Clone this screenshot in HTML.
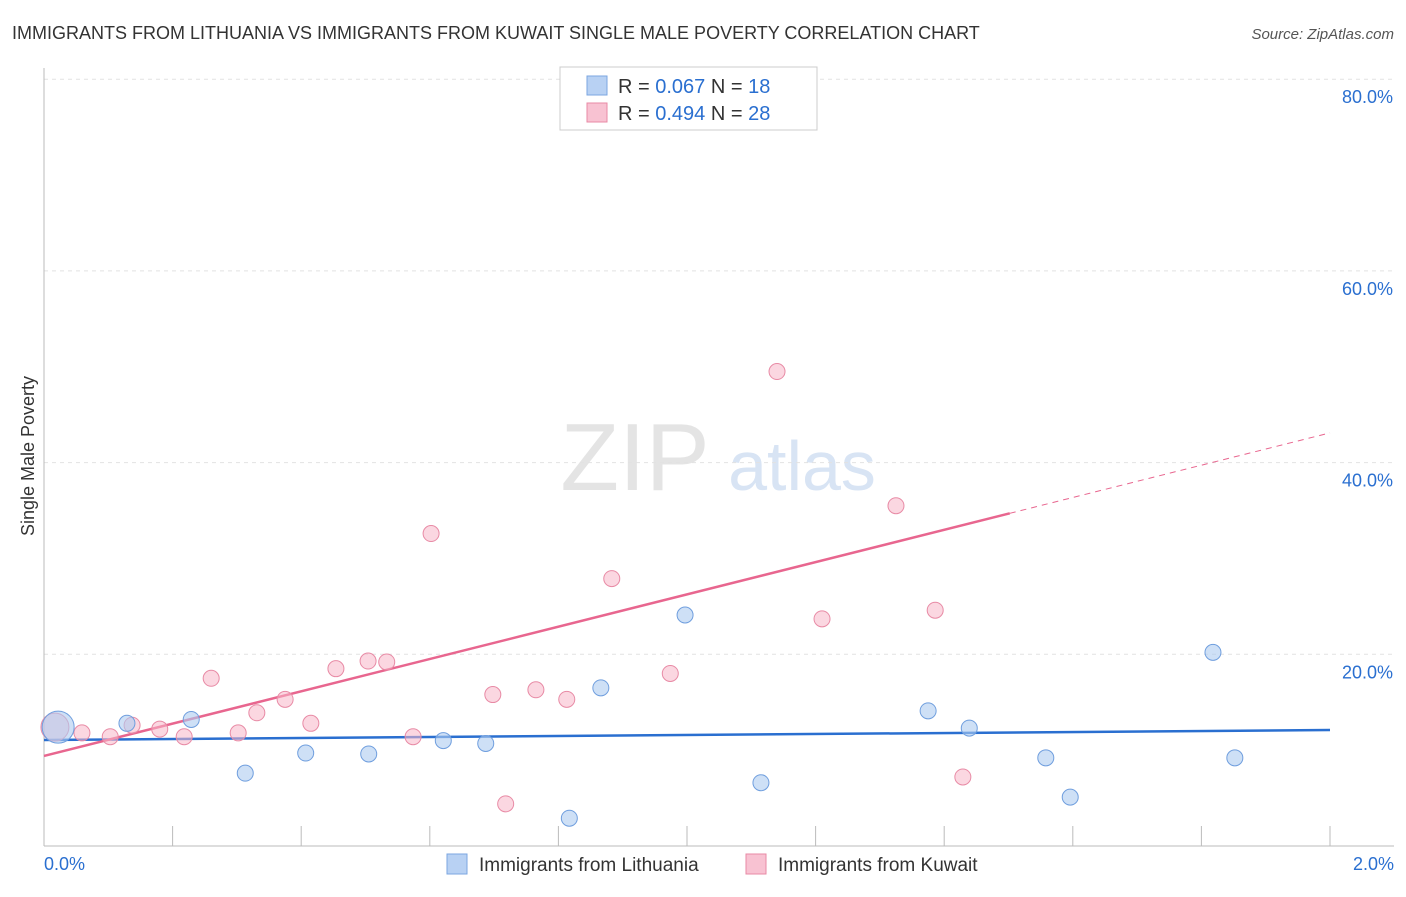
<!DOCTYPE html>
<html><head><meta charset="utf-8"><style>
body{margin:0;background:#fff;font-family:"Liberation Sans",sans-serif;}
svg text{font-family:"Liberation Sans",sans-serif;}
</style></head><body>
<svg id="chart" width="1406" height="892" xmlns="http://www.w3.org/2000/svg">
<text x="12" y="39" font-size="18" fill="#333">IMMIGRANTS FROM LITHUANIA VS IMMIGRANTS FROM KUWAIT SINGLE MALE POVERTY CORRELATION CHART</text>
<text x="1394" y="39" font-size="15" fill="#555" font-style="italic" text-anchor="end">Source: ZipAtlas.com</text>
<text transform="translate(34,456) rotate(-90)" font-size="18" fill="#333" text-anchor="middle">Single Male Poverty</text>
<g>
<text x="635" y="490" font-size="96" fill="#e4e4e4" font-family="Liberation Serif" text-anchor="middle">ZIP</text>
<text x="802" y="490" font-size="70" fill="#d8e4f4" text-anchor="middle">atlas</text>
</g>
<g id="grid"></g><g id="axes"></g><g id="trends"></g><g id="points"></g>
<g>
<rect x="560" y="67" width="257" height="63" fill="#fff" stroke="#ccc"/>
<rect x="587" y="76" width="20" height="19" fill="#b8d1f3" stroke="#7ba6e0"/>
<rect x="587" y="103" width="20" height="19" fill="#f8c2d2" stroke="#e88aa5"/>
<text x="618" y="93" font-size="20" fill="#333">R = <tspan fill="#2a6fd0">0.067</tspan>   N = <tspan fill="#2a6fd0">18</tspan></text>
<text x="618" y="120" font-size="20" fill="#333">R = <tspan fill="#2a6fd0">0.494</tspan>   N = <tspan fill="#2a6fd0">28</tspan></text>
</g>
<g>
<rect x="447" y="854" width="20" height="20" fill="#b8d1f3" stroke="#7ba6e0"/>
<text x="479" y="871" font-size="19" fill="#333">Immigrants from Lithuania</text>
<rect x="746" y="854" width="20" height="20" fill="#f8c2d2" stroke="#e88aa5"/>
<text x="778" y="871" font-size="19" fill="#333">Immigrants from Kuwait</text>
</g>
</svg>
<script>
const yTicks=[20,40,60,80];
const xTickLabels=["0.0%","2.0%"];
const blueX=[0.022,0.129,0.229,0.313,0.407,0.505,0.621,0.687,0.817,0.866,0.997,1.115,1.375,1.439,1.558,1.596,1.818,1.852];
const blueY=[12.4,12.8,13.2,7.6,9.7,9.6,11.0,10.7,2.9,16.5,24.1,6.6,14.1,12.3,9.2,5.1,20.2,9.2];
const pinkX=[0.017,0.059,0.103,0.137,0.180,0.218,0.260,0.302,0.331,0.375,0.415,0.454,0.504,0.533,0.574,0.602,0.698,0.718,0.765,0.813,0.883,0.974,1.140,1.210,1.325,1.386,1.429,1.160];
const pinkY=[12.4,11.8,11.4,12.6,12.2,11.4,17.5,11.8,13.9,15.3,12.8,18.5,19.3,19.2,11.4,32.6,15.8,4.4,16.3,15.3,27.9,18.0,49.5,23.7,35.5,24.6,7.2,77.0];
const blueTrend=[11.06,12.1];
const pinkTrend=[9.4,43.1];
const pinkSolidEnd=1.502;
const NS="http://www.w3.org/2000/svg";
const sx=v=>44+v*643, sy=v=>846-v*9.585;
function mk(tag,attrs,parent){const e=document.createElementNS(NS,tag);for(const k in attrs)e.setAttribute(k,attrs[k]);parent.appendChild(e);return e;}
const grid=document.getElementById('grid'),axes=document.getElementById('axes'),trends=document.getElementById('trends'),pts=document.getElementById('points');
yTicks.forEach(t=>{
 const l=mk('line',{x1:44,x2:1394,y1:sy(t),y2:sy(t),stroke:'#e2e2e2','stroke-dasharray':'4,4'},grid);
 
 
 const tx=mk('text',{x:1393,y:sy(t)+24,'font-size':18,fill:'#2a6fd0','text-anchor':'end'},grid);
 tx.textContent=t.toFixed(1)+'%';
 
 
});
const xa=mk('line',{x1:44,x2:1394,y1:846,y2:846,stroke:'#bbb'},axes);


const ya=mk('line',{x1:44,x2:44,y1:68,y2:846,stroke:'#bbb'},axes);


for(let i=0;i<=10;i++){const tk=mk('line',{x1:sx(i*0.2),x2:sx(i*0.2),y1:826,y2:846,stroke:'#bbb'},axes);
 
 }
[[0,'start',44],[2,'end',1394]].forEach((d,i)=>{const t=mk('text',{x:d[2],y:870,'font-size':18,fill:'#2a6fd0','text-anchor':d[1]},axes);t.textContent=xTickLabels[i];
 
 });
function tv(tr,x){return tr[0]+(tr[1]-tr[0])*x/2;}
const bl=mk('line',{x1:sx(0),y1:sy(blueTrend[0]),x2:sx(2),y2:sy(blueTrend[1]),stroke:'#2a6fd0','stroke-width':2.5},trends);


const pl=mk('line',{x1:sx(0),y1:sy(pinkTrend[0]),x2:sx(pinkSolidEnd),y2:sy(tv(pinkTrend,pinkSolidEnd)),stroke:'#e8668f','stroke-width':2.5},trends);


const pd=mk('line',{x1:sx(pinkSolidEnd),y1:sy(tv(pinkTrend,pinkSolidEnd)),x2:sx(2),y2:sy(pinkTrend[1]),stroke:'#e8668f','stroke-width':1,'stroke-dasharray':'6,5'},trends);


pinkX.forEach((x,i)=>{const c=mk('circle',{cx:sx(x),cy:sy(pinkY[i]),r:i==0?14:8,fill:'#f7b6c8','fill-opacity':0.55,stroke:'#e88aa5','stroke-width':1},pts);
 
 });
blueX.forEach((x,i)=>{const c=mk('circle',{cx:sx(x),cy:sy(blueY[i]),r:i==0?16:8,fill:'#aecbf0','fill-opacity':0.6,stroke:'#6f9ede','stroke-width':1},pts);
 
 });
</script>
</body></html>
